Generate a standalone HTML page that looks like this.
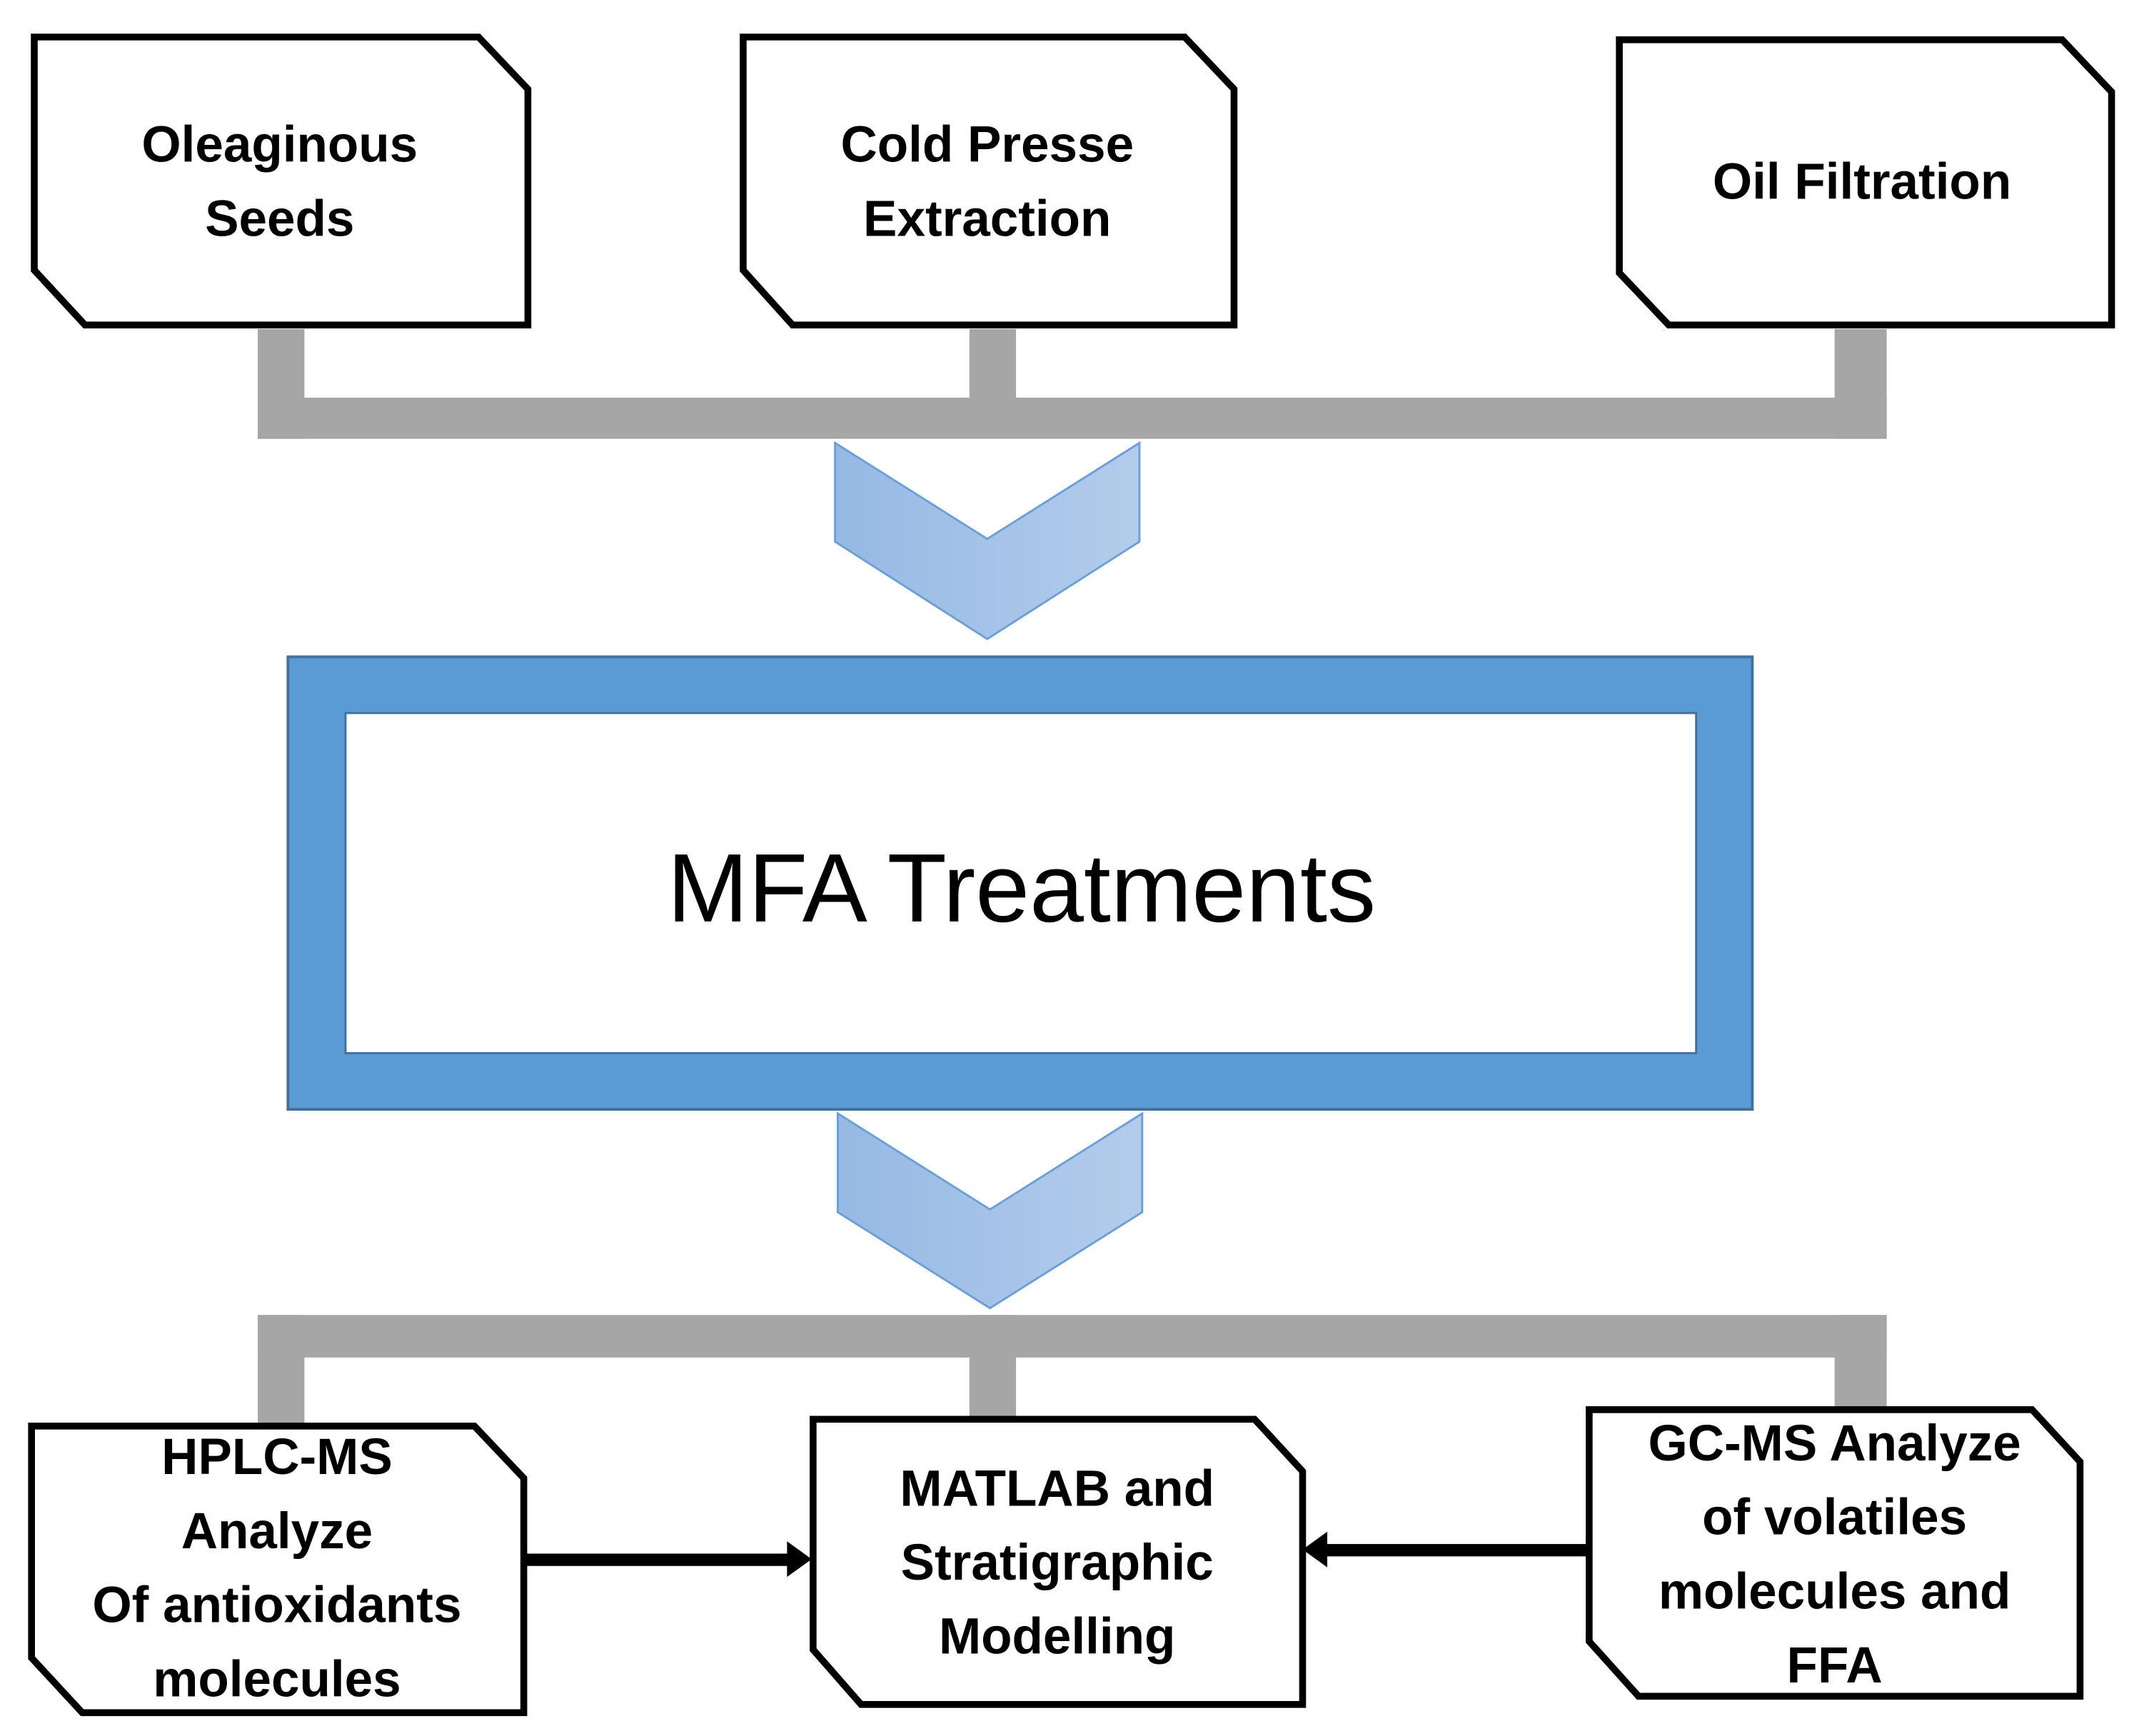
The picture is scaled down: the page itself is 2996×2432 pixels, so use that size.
<!DOCTYPE html>
<html><head><meta charset="utf-8"><style>
html,body{margin:0;padding:0;background:#fff;}
svg{display:block;}
text{font-family:"Liberation Sans",sans-serif;}
.b{font-weight:bold;font-size:37px;fill:#000;text-anchor:middle;}
</style></head><body>
<svg width="2996" height="2432" viewBox="0 0 1560 1266" preserveAspectRatio="none" xmlns="http://www.w3.org/2000/svg">
<defs>
<linearGradient id="g" x1="0" y1="0" x2="1" y2="0">
<stop offset="0" stop-color="#95b9e4"/><stop offset="1" stop-color="#b4cceb"/>
</linearGradient>
</defs>
<rect width="1560" height="1266" fill="#fff"/>
<g fill="#a6a6a6">
<rect x="188" y="240" width="34" height="80"/>
<rect x="707" y="240" width="34" height="60"/>
<rect x="1338" y="240" width="38" height="80"/>
<rect x="188" y="290" width="1188" height="30"/>
<rect x="188" y="959" width="1188" height="31"/>
<rect x="188" y="959" width="34" height="80"/>
<rect x="707" y="959" width="34" height="76"/>
<rect x="1338" y="959" width="38" height="70"/>
</g>
<g fill="#fff" stroke="#000" stroke-width="5">
<polygon points="25,27 349,27 385,65 385,237 62,237 25,197"/>
<polygon points="542,27 864,27 900,65 900,237 578,237 542,197"/>
<polygon points="1181,29 1504,29 1540,67 1540,237 1217,237 1181,199"/>
<polygon points="23,1040 346,1040 382,1078 382,1249 60,1249 23,1209"/>
<polygon points="593,1035 915,1035 950,1073 950,1243 628,1243 593,1203"/>
<polygon points="1159,1028 1482,1028 1517,1066 1517,1237 1195,1237 1159,1197"/>
</g>
<text class="b" x="204" y="118">Oleaginous</text>
<text class="b" x="204" y="172">Seeds</text>
<text class="b" x="720" y="118">Cold Presse</text>
<text class="b" x="720" y="172">Extraction</text>
<text class="b" x="1358" y="145">Oil Filtration</text>
<text class="b" x="202" y="1075">HPLC-MS</text>
<text class="b" x="202" y="1129">Analyze</text>
<text class="b" x="202" y="1183">Of antioxidants</text>
<text class="b" x="202" y="1237">molecules</text>
<text class="b" x="771" y="1098">MATLAB and</text>
<text class="b" x="771" y="1152">Stratigraphic</text>
<text class="b" x="771" y="1206">Modelling</text>
<text class="b" x="1338" y="1065">GC-MS Analyze</text>
<text class="b" x="1338" y="1119">of volatiles</text>
<text class="b" x="1338" y="1173">molecules and</text>
<text class="b" x="1338" y="1227">FFA</text>
<polygon points="609,323 720,393 831,323 831,395 720,466 609,395" fill="url(#g)" stroke="#6a9fd8" stroke-width="1.5"/>
<polygon points="611,812 722,882 833,812 833,884 722,954 611,884" fill="url(#g)" stroke="#6a9fd8" stroke-width="1.5"/>
<rect x="210" y="479" width="1068" height="330" fill="#5b9bd5" stroke="#41719c" stroke-width="2"/>
<rect x="252" y="520" width="985" height="248" fill="#fff" stroke="#41719c" stroke-width="1.5"/>
<text x="745" y="672" font-size="71" text-anchor="middle" fill="#000">MFA Treatments</text>
<rect x="382" y="1133" width="196" height="9" fill="#000"/>
<polygon points="574,1124 592,1137 574,1150" fill="#000"/>
<rect x="965" y="1126" width="194" height="9" fill="#000"/>
<polygon points="968,1117 950,1130 968,1143" fill="#000"/>
</svg>
</body></html>
